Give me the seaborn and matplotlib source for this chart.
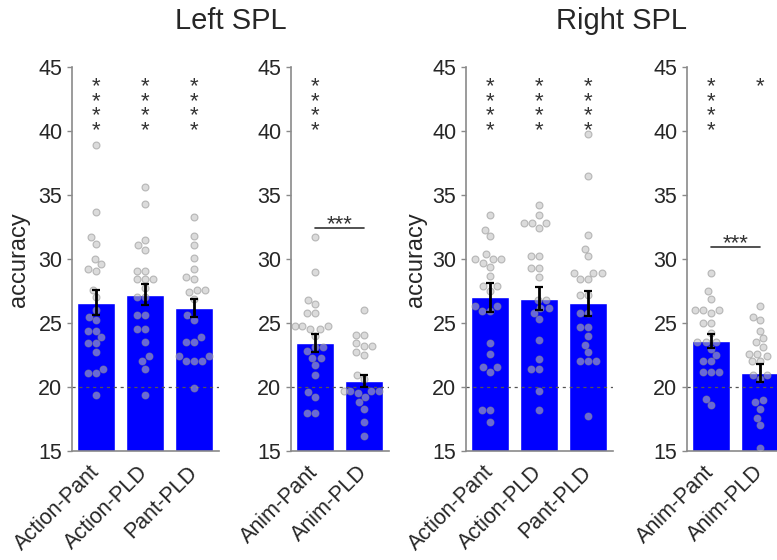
import numpy as np
import pandas as pd
import matplotlib
matplotlib.use("Agg")
import matplotlib.pyplot as plt
import seaborn as sns

# ---------------- data ----------------
action_cats = ["Action-Pant", "Action-PLD", "Pant-PLD"]
anim_cats = ["Anim-Pant", "Anim-PLD"]

left_action_means = [26.6, 27.2, 26.15]
left_action_sems = [0.98, 0.83, 0.72]
left_anim_means = [23.45, 20.5]
left_anim_sems = [0.72, 0.47]
right_action_means = [27.0, 26.9, 26.55]
right_action_sems = [1.15, 0.90, 0.98]
right_anim_means = [23.6, 21.1]
right_anim_sems = [0.52, 0.70]

L_action_pant = [38.9, 33.7, 31.7, 31.2, 30.0, 29.6, 29.2, 29.1, 27.6, 27.0, 26.0, 25.5,
                 25.2, 24.4, 24.4, 23.9, 23.4, 23.4, 22.7, 21.4, 21.1, 21.1, 19.4]
L_action_pld = [35.6, 34.3, 31.5, 31.1, 30.7, 29.1, 29.1, 28.4, 28.4, 28.4, 27.7, 27.0,
                27.0, 25.6, 25.6, 24.5, 24.5, 23.5, 22.4, 22.0, 21.4, 19.4]
L_pant_pld = [33.3, 31.8, 31.1, 30.1, 29.2, 28.6, 28.4, 27.6, 27.6, 27.4, 26.9, 25.6,
              25.2, 23.9, 23.5, 23.5, 22.4, 22.4, 22.0, 22.0, 22.0, 19.9]
L_anim_pant = [31.7, 29.0, 26.8, 26.5, 25.8, 25.8, 24.8, 24.8, 24.8, 24.5, 24.5, 24.0,
               23.1, 23.1, 22.8, 22.3, 22.3, 21.7, 20.9, 19.6, 19.2, 18.0, 18.0]
L_anim_pld = [26.0, 24.1, 24.1, 23.4, 23.2, 23.2, 22.7, 22.5, 20.9, 20.6, 19.7, 19.7,
              19.7, 19.7, 19.5, 19.2, 18.8, 18.3, 17.3, 16.2]
R_action_pant = [33.4, 32.3, 31.8, 30.4, 30.0, 30.0, 30.0, 29.7, 29.4, 28.7, 27.9, 27.9,
                 27.5, 26.3, 26.3, 25.9, 25.9, 23.4, 22.6, 21.6, 21.6, 21.2, 18.2, 18.2, 17.3]
R_action_pld = [34.2, 33.4, 32.8, 32.8, 32.8, 32.4, 30.2, 30.2, 29.3, 29.3, 28.6, 26.8,
                26.8, 26.2, 26.2, 25.8, 25.3, 23.7, 22.2, 21.4, 21.4, 19.7, 18.2]
R_pant_pld = [39.8, 36.5, 31.9, 30.8, 30.2, 28.9, 28.9, 28.9, 28.4, 28.4, 27.2, 27.2,
              25.8, 25.8, 24.7, 24.7, 24.0, 23.3, 22.7, 22.0, 22.0, 22.0, 17.7]
R_anim_pant = [28.9, 27.5, 26.9, 26.0, 26.0, 26.0, 25.8, 25.0, 25.0, 24.2, 23.5, 23.5,
               23.5, 23.0, 22.5, 22.0, 22.0, 21.2, 21.2, 21.2, 19.1, 18.6]
R_anim_pld = [26.3, 25.5, 25.2, 24.4, 23.8, 23.5, 23.1, 22.6, 22.6, 22.4, 22.0, 22.0,
              20.9, 20.9, 20.6, 19.0, 18.8, 18.3, 17.6, 17.0, 15.2]

left_action_stars = [4, 4, 4]
left_anim_stars = [4, 0]
right_action_stars = [4, 4, 4]
right_anim_stars = [4, 1]
left_anim_bracket = ("***", 32.45)
right_anim_bracket = ("***", 30.96)

yticks = [15, 20, 25, 30, 35, 40, 45]
titles = ["Left SPL", "Right SPL"]
ylabel = "accuracy"

# ---------------- style ----------------
sns.set_style("white")
plt.rcParams["font.family"] = ["Liberation Sans", "DejaVu Sans"]

W, H = 777, 560
fig = plt.figure(figsize=(W / 100, H / 100), dpi=100)

BAR_BLUE = "#0000ff"
SPINE = "#8a8a8a"
STAR_C = "#333333"
STAR_TOP = 43.7
STAR_STEP = 1.14


def draw_panel(ax, cats, means, sems, points, stars, bracket=None):
    df_bar = pd.DataFrame({"cond": cats, "acc": means})
    sns.barplot(data=df_bar, x="cond", y="acc", order=cats, color=BAR_BLUE,
                saturation=1, width=0.78, errorbar=None, ax=ax, zorder=1)
    ax.axhline(20, color="#555555", lw=0.9, ls=(0, (2.5, 3)), zorder=2)
    df_pts = pd.DataFrame({
        "cond": np.repeat(cats, [len(p) for p in points]),
        "acc": np.concatenate([np.asarray(p, float) for p in points]),
    })
    sns.swarmplot(data=df_pts, x="cond", y="acc", order=cats, color="#bebebe",
                  edgecolor="#8c8c8c", linewidth=0.8, size=5.0, alpha=0.55,
                  ax=ax, zorder=3)
    ax.errorbar(np.arange(len(cats)), means, yerr=sems, fmt="none", ecolor="black",
                elinewidth=2, capsize=3, capthick=1.6, zorder=5)

    for i, k in enumerate(stars):
        if k > 0:
            # va="baseline" anchors the last line of a multi-line text
            ax.annotate("\n".join(["*"] * k), (i, STAR_TOP - STAR_STEP * (k - 1)),
                        xytext=(0, -6.3), textcoords="offset points",
                        ha="center", va="baseline", fontsize=16, color=STAR_C,
                        linespacing=0.60, zorder=6)
    if bracket is not None:
        label, yb = bracket
        ax.plot([0, 1], [yb, yb], color="#333333", lw=1.2, zorder=6)
        ax.annotate(label, (0.5, yb), xytext=(0, -1.5), textcoords="offset points",
                    ha="center", va="baseline", fontsize=16, color=STAR_C, zorder=6)

    ax.set_ylim(15, 45)
    ax.set_xlim(-0.5, len(cats) - 0.5)
    ax.set_yticks(yticks)
    ax.set_xlabel("")
    ax.set_ylabel("")
    sns.despine(ax=ax)
    for s in ("left", "bottom"):
        ax.spines[s].set_color(SPINE)
        ax.spines[s].set_linewidth(1.2)
    ax.tick_params(axis="y", direction="out", length=3.5, width=1, color=SPINE,
                   labelsize=15.5, pad=3, labelcolor="#262626", left=True)
    ax.tick_params(axis="x", length=0, pad=13, labelsize=15.5, labelcolor="#262626")
    ax.set_xticks(range(len(cats)))
    ax.set_xticklabels(cats, rotation=45, ha="right", rotation_mode="anchor",
                       va="center")
    ax.patch.set_alpha(0)


def add_ax(x0, x1):
    return fig.add_axes([x0 / W, 109 / H, (x1 - x0) / W, 384 / H])


ax1 = add_ax(71.5, 218.5)
ax2 = add_ax(290.5, 388.5)
ax3 = add_ax(465.5, 612.5)
ax4 = add_ax(686.5, 784.5)

draw_panel(ax1, action_cats, left_action_means, left_action_sems,
           [L_action_pant, L_action_pld, L_pant_pld], left_action_stars)
draw_panel(ax2, anim_cats, left_anim_means, left_anim_sems,
           [L_anim_pant, L_anim_pld], left_anim_stars, left_anim_bracket)
draw_panel(ax3, action_cats, right_action_means, right_action_sems,
           [R_action_pant, R_action_pld, R_pant_pld], right_action_stars)
draw_panel(ax4, anim_cats, right_anim_means, right_anim_sems,
           [R_anim_pant, R_anim_pld], right_anim_stars, right_anim_bracket)

fig.text(19 / W, 1 - 260 / H, ylabel, rotation=90, ha="center", va="center",
         fontsize=17, color="#262626")
fig.text(416 / W, 1 - 260 / H, ylabel, rotation=90, ha="center", va="center",
         fontsize=17, color="#262626")
fig.text(231 / W, 1 - 21 / H, titles[0], ha="center", va="center", fontsize=21)
fig.text(621 / W, 1 - 21 / H, titles[1], ha="center", va="center", fontsize=21)

fig.savefig("out.png", dpi=100)
